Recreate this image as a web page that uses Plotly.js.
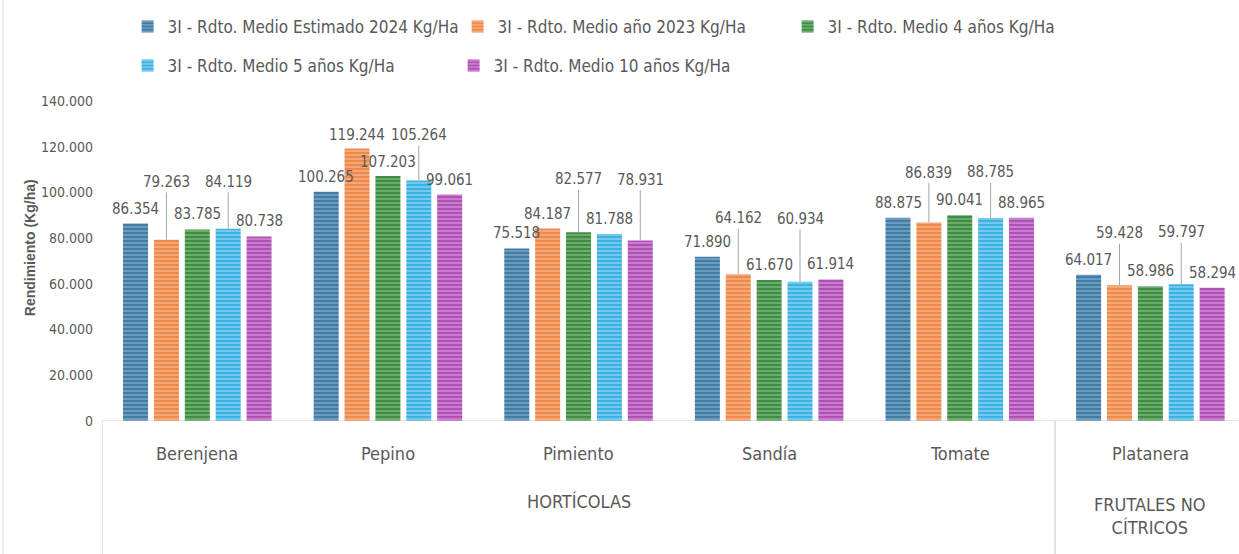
<!DOCTYPE html>
<html>
<head>
<meta charset="utf-8">
<script src="https://cdn.plot.ly/plotly-3.0.1.min.js"></script>
<style>html,body{margin:0;padding:0;background:#fff;}#chart{width:1239px;height:554px;}</style>
</head>
<body>
<div id="chart"></div>
<script>
// ---- data ----
const categories = ['Berenjena', 'Pepino', 'Pimiento', 'Sandía', 'Tomate', 'Platanera'];
const groupNames = ['HORTÍCOLAS', 'FRUTALES NO<br>CÍTRICOS'];
const groupOfCategory = [0, 0, 0, 0, 0, 1];
const seriesNames = [
  '3I - Rdto. Medio Estimado 2024 Kg/Ha',
  '3I - Rdto. Medio año 2023 Kg/Ha',
  '3I - Rdto. Medio 4 años Kg/Ha',
  '3I - Rdto. Medio 5 años Kg/Ha',
  '3I - Rdto. Medio 10 años Kg/Ha'
];
const est2024 = [86354, 100265, 75518, 71890, 88875, 64017];
const year2023 = [79263, 119244, 84187, 64162, 86839, 59428];
const avg4 = [83785, 107203, 82577, 61670, 90041, 58986];
const avg5 = [84119, 105264, 81788, 60934, 88785, 59797];
const avg10 = [80738, 99061, 78931, 61914, 88965, 58294];
const yTicks = [0, 20000, 40000, 60000, 80000, 100000, 120000, 140000];

// ---- style ----
const seriesValues = [est2024, year2023, avg4, avg5, avg10];
const colors = ['#3f7ca6', '#f0884a', '#3e8d41', '#3bb2e4', '#b04fb6'];
const stripe = ['#86adc9', '#f7b994', '#86bb88', '#93d5f2', '#d597d8'];
// label lift above bar top in px (Excel moved some labels up with leader lines)
const labelLift = [
  [15, 15, 15, 15, 15, 15],
  [58, 13, 15, 56, 50, 52],
  [15, 14, 53, 15, 15, 15],
  [47, 45, 15, 63, 46, 52],
  [15, 15, 61, 15, 15, 15]
];
const FONT = '"Liberation Sans Narrow", "DejaVu Sans Condensed", "Roboto Condensed", sans-serif';
const TXT = '#595959';
const LINE = '#c9c9c9';

function fmt(v) { return String(v).replace(/\B(?=(\d{3})+(?!\d))/g, '.'); }

const bargap = 0.19, bargroupgap = 0.19;
const nS = seriesValues.length;
const slot = (1 - bargap) / nS;
const xIdx = categories.map((c, i) => i);

const traces = seriesValues.map((vals, s) => ({
  type: 'bar',
  name: seriesNames[s],
  x: xIdx,
  y: vals,
  legend: s < 3 ? 'legend' : 'legend2',
  marker: {
    color: colors[s],
    line: {width: 0},
    pattern: {shape: '-', bgcolor: colors[s], fgcolor: stripe[s], fgopacity: 0.9, size: 4, solidity: 0.35}
  },
  hoverinfo: 'skip',
  cliponaxis: false
}));

const annotations = [];
seriesValues.forEach((vals, s) => {
  vals.forEach((v, i) => {
    const x = i + (s - (nS - 1) / 2) * slot;
    const lift = labelLift[s][i];
    if (lift > 20) {
      annotations.push({x: x, y: v, xref: 'x', yref: 'y', text: fmt(v), showarrow: true,
        arrowhead: 0, arrowwidth: 1, arrowcolor: '#a6a6a6', ax: 0, ay: -lift, standoff: 0,
        font: {family: FONT, size: 15, color: TXT}});
    } else {
      annotations.push({x: x, y: v, xref: 'x', yref: 'y', text: fmt(v), showarrow: false,
        yanchor: 'middle', yshift: lift, font: {family: FONT, size: 15, color: TXT}});
    }
  });
});
// category labels
categories.forEach((c, i) => {
  annotations.push({x: i, y: -0.1, xref: 'x', yref: 'paper', text: c, showarrow: false,
    yanchor: 'middle', font: {family: FONT, size: 18, color: TXT}});
});
// group labels
const groupCenters = groupNames.map((g, gi) => {
  const idx = groupOfCategory.map((v, i) => v === gi ? i : null).filter(v => v !== null);
  return (idx[0] + idx[idx.length - 1]) / 2;
});
annotations.push({x: groupCenters[0], y: -0.253, xref: 'x', yref: 'paper', text: groupNames[0], showarrow: false,
  yanchor: 'middle', font: {family: FONT, size: 18, color: TXT}});
annotations.push({x: groupCenters[1], y: -0.298, xref: 'x', yref: 'paper', text: groupNames[1], showarrow: false,
  yanchor: 'middle', font: {family: FONT, size: 18, color: TXT}});
// y title
annotations.push({x: -0.0633, y: 0.54, xref: 'paper', yref: 'paper', xanchor: 'center', yanchor: 'middle',
  text: '<b>Rendimiento (Kg/ha)</b>', textangle: -90,
  showarrow: false, font: {family: '"Liberation Sans", Arial, sans-serif', size: 14, color: TXT}});

const shapes = [
  {type: 'line', xref: 'paper', yref: 'y', x0: 0, x1: 1, y0: 0, y1: 0, line: {color: LINE, width: 1}},
  {type: 'line', xref: 'x', yref: 'paper', x0: -0.5, x1: -0.5, y0: -0.42, y1: 0, line: {color: LINE, width: 1}},
  {type: 'line', xref: 'x', yref: 'paper', x0: 4.5, x1: 4.5, y0: -0.42, y1: 0, line: {color: LINE, width: 1}},
  {type: 'line', xref: 'paper', yref: 'paper', x0: -0.0871, x1: -0.0871, y0: -0.42, y1: 1.35, line: {color: '#dcdcdc', width: 1}}
];

const layout = {
  width: 1239, height: 554,
  margin: {l: 102, r: 0, t: 101, b: 133, pad: 0},
  paper_bgcolor: '#ffffff', plot_bgcolor: '#ffffff',
  barmode: 'group', bargap: bargap, bargroupgap: bargroupgap,
  font: {family: FONT, color: TXT},
  xaxis: {range: [-0.5, 5.465], showticklabels: false, showgrid: false, zeroline: false, showline: false, ticks: ''},
  yaxis: {range: [0, 140000], tickvals: yTicks, ticktext: yTicks.map(fmt), showgrid: false, zeroline: false,
    showline: false, ticks: '', ticklabelstandoff: 8, tickfont: {family: FONT, size: 14, color: TXT}},
  showlegend: true,
  legend: {orientation: 'h', xref: 'container', yref: 'container', x: 0.103, y: 1 - 27 / 554, xanchor: 'left', yanchor: 'middle',
    entrywidth: 285, entrywidthmode: 'pixels', font: {family: FONT, size: 17, color: TXT}, traceorder: 'normal', itemclick: false},
  legend2: {orientation: 'h', xref: 'container', yref: 'container', x: 0.103, y: 1 - 66 / 554, xanchor: 'left', yanchor: 'middle',
    entrywidth: 281, entrywidthmode: 'pixels', font: {family: FONT, size: 17, color: TXT}, traceorder: 'normal', itemclick: false},
  annotations: annotations,
  shapes: shapes
};

Plotly.newPlot('chart', traces, layout, {staticPlot: true, displayModeBar: false});
</script>
</body>
</html>
